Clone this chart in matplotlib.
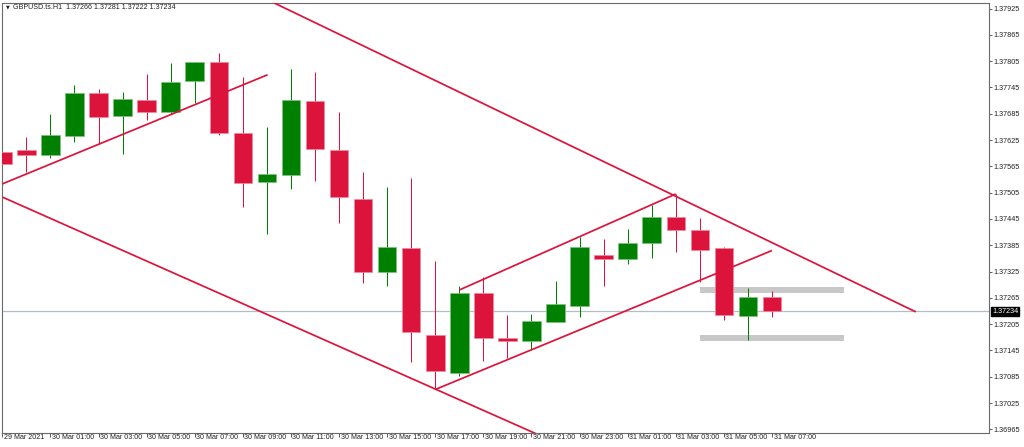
import matplotlib.pyplot as plt
from matplotlib import transforms

plt.rcParams["font.family"] = ["Liberation Sans", "DejaVu Sans"]

# GBPUSD H1 candles, 29 Mar 23:00 .. 31 Mar 07:00 (one bar per hour)
opens = [1.37597, 1.37602, 1.37590, 1.37635, 1.37732, 1.37681, 1.37717, 1.37690,
         1.37760, 1.37804, 1.37642, 1.37530, 1.37545, 1.37713, 1.37602, 1.37491,
         1.37323, 1.37378, 1.37180, 1.37094, 1.37276, 1.37174, 1.37167, 1.37210,
         1.37247, 1.37363, 1.37353, 1.37390, 1.37450, 1.37419, 1.37378, 1.37224,
         1.37266]
highs = [1.37618, 1.37631, 1.37685, 1.37751, 1.37741, 1.37734, 1.37775, 1.37800,
         1.37804, 1.37824, 1.37768, 1.37654, 1.37787, 1.37781, 1.37689, 1.37553,
         1.37517, 1.37538, 1.37349, 1.37291, 1.37312, 1.37226, 1.37228, 1.37304,
         1.37405, 1.37400, 1.37422, 1.37477, 1.37502, 1.37447, 1.37380, 1.37288,
         1.37281]
lows = [1.37566, 1.37553, 1.37585, 1.37621, 1.37616, 1.37593, 1.37671, 1.37685,
        1.37709, 1.37637, 1.37472, 1.37410, 1.37513, 1.37531, 1.37435, 1.37298,
        1.37291, 1.37118, 1.37056, 1.37087, 1.37122, 1.37127, 1.37145, 1.37210,
        1.37222, 1.37293, 1.37342, 1.37355, 1.37370, 1.37302, 1.37214, 1.37170,
        1.37222]
closes = [1.37570, 1.37590, 1.37636, 1.37732, 1.37678, 1.37719, 1.37688, 1.37758,
          1.37803, 1.37640, 1.37526, 1.37548, 1.37717, 1.37605, 1.37496, 1.37323,
          1.37380, 1.37187, 1.37099, 1.37276, 1.37174, 1.37167, 1.37212, 1.37250,
          1.37380, 1.37353, 1.37390, 1.37450, 1.37420, 1.37374, 1.37226, 1.37268,
          1.37234]

# time axis labels, every second bar
x_label_bars = [0, 2, 4, 6, 8, 10, 12, 14, 16, 18, 20, 22, 24, 26, 28, 30, 32]
x_labels = ["29 Mar 2021", "30 Mar 01:00", "30 Mar 03:00", "30 Mar 05:00",
            "30 Mar 07:00", "30 Mar 09:00", "30 Mar 11:00", "30 Mar 13:00",
            "30 Mar 15:00", "30 Mar 17:00", "30 Mar 19:00", "30 Mar 21:00",
            "30 Mar 23:00", "31 Mar 01:00", "31 Mar 03:00", "31 Mar 05:00",
            "31 Mar 07:00"]

price_ticks = [1.36965, 1.37025, 1.37085, 1.37145, 1.37205, 1.37265, 1.37325,
               1.37385, 1.37445, 1.37505, 1.37565, 1.37625, 1.37685, 1.37745,
               1.37805, 1.37865, 1.37925]

# trend lines: (bar, price) -> (bar, price)
trend_lines = [
    ((11.22, 1.37940), (37.98, 1.37233)),   # descending resistance
    ((0.0, 1.37495), (24.0, 1.36911)),      # descending support
    ((0.0, 1.37525), (11.03, 1.37774)),     # early rising line
    ((18.0, 1.37056), (32.0, 1.37373)),     # rising channel low
    ((19.0, 1.37283), (28.0, 1.37502)),     # rising channel high
]

# grey support / resistance zones
zone_levels = [1.37284, 1.37173]
zone_start, zone_end = 29.0, 35.0

last_price = 1.37234
title = "GBPUSD.ts.H1  1.37266 1.37281 1.37222 1.37234"

GREEN = "#008000"
RED = "#DC143C"

W, H = 1024, 447
fig = plt.figure(figsize=(W / 100, H / 100), dpi=100)
ax = fig.add_axes([2.3 / W, (H - 432.7) / H, (988.5 - 2.3) / W, (432.7 - 2.7) / H])
ax.set_xlim(0.0, 41.0)
ax.set_ylim(1.369574, 1.379384)

# last price line and zones sit behind the candles
ax.axhline(last_price, color="#b4bcc4", lw=0.9, zorder=1)
px = 72 / 100  # points per pixel
for lvl in zone_levels:
    ax.hlines(lvl, zone_start, zone_end, color="#c8c8c8", lw=6 * px,
              capstyle="butt", zorder=1)

# candles
for i in range(len(opens)):
    o, h, l, c = opens[i], highs[i], lows[i], closes[i]
    col = GREEN if c >= o else RED
    edge = "#80c080" if c >= o else "#ee8aa0"
    ax.vlines(i, l, h, color=col, lw=1.0 * px, zorder=2)
    ax.bar(i, abs(c - o), bottom=min(o, c), width=0.77, color=col,
           edgecolor=edge, linewidth=0.5, zorder=3)

for (x0, y0), (x1, y1) in trend_lines:
    ax.plot([x0, x1], [y0, y1], color=RED, lw=1.25, zorder=4,
            solid_capstyle="butt")

# axes styling
for side in ["top", "left", "bottom", "right"]:
    ax.spines[side].set_color("#6a6a6a")
    ax.spines[side].set_linewidth(0.8)

ax.yaxis.tick_right()
ax.set_yticks(price_ticks)
ax.set_yticklabels([f"{p:.5f}" for p in price_ticks])
ax.tick_params(axis="y", direction="out", length=3 * px, width=0.6,
               color="#404040", pad=1.5, labelsize=5.2, labelcolor="#202020")

ax.set_xticks(x_label_bars)
ax.set_xticklabels(x_labels, ha="left")
ax.tick_params(axis="x", direction="out", length=4 * px, width=0.6,
               color="#404040", pad=-1.8, labelsize=5.1, labelcolor="#202020")
shift = transforms.ScaledTranslation(1.5 / 100, 0, fig.dpi_scale_trans)
for lbl in ax.get_xticklabels():
    lbl.set_transform(lbl.get_transform() + shift)

# last price tag on the price scale
tag_tr = transforms.blended_transform_factory(ax.transAxes, ax.transData)
ax.text(1.0 + 3.5 / (988.5 - 2.3), last_price, f"{last_price:.5f}", transform=tag_tr,
        ha="left", va="center", fontsize=5.2, color="white", zorder=6,
        bbox=dict(boxstyle="square,pad=0.15", fc="black", ec="black"))

# chart header
ax.text(6 / W, 1 - 6.5 / H, "\u25bc", transform=fig.transFigure, fontsize=3.5,
        ha="left", va="center", color="#202020", family=["DejaVu Sans"])
ax.text(13.3 / W, 1 - 7.5 / H, title, transform=fig.transFigure, fontsize=5.1,
        ha="left", va="center", color="#202020")

fig.savefig("out.png", dpi=100)
